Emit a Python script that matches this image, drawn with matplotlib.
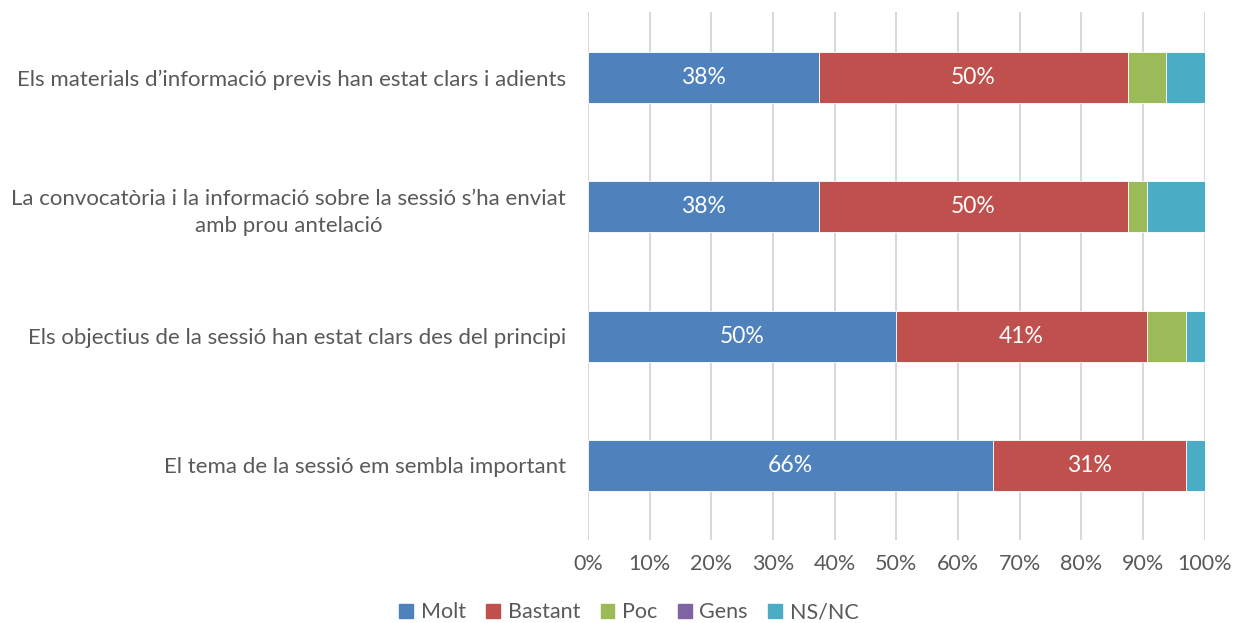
import numpy as np
import matplotlib.pyplot as plt
from matplotlib.patches import Patch

plt.rcParams['font.family'] = ['Lato', 'DejaVu Sans']

questions = [
    "El tema de la sessió em sembla important",
    "Els objectius de la sessió han estat clars des del principi",
    "La convocatòria i la informació sobre la sessió s’ha enviat\namb prou antelació",
    "Els materials d’informació previs han estat clars i adients",
]
series = ["Molt", "Bastant", "Poc", "Gens", "NS/NC"]
colors = ["#4f81bd", "#c0504d", "#9bbb59", "#8064a2", "#4bacc6"]

molt = [65.6, 50.0, 37.5, 37.5]
bastant = [31.3, 40.6, 50.0, 50.0]
poc = [0.0, 6.3, 3.1, 6.25]
gens = [0.0, 0.0, 0.0, 0.0]
nsnc = [3.1, 3.1, 9.4, 6.25]
values = [molt, bastant, poc, gens, nsnc]

fig = plt.figure(figsize=(12.33, 6.23), dpi=100)
ax = fig.add_axes([0.477, 0.133, 0.5, 0.848])

y = np.arange(len(questions))
left = np.zeros(len(questions))
for name, vals, c in zip(series, values, colors):
    vals = np.array(vals)
    ax.barh(y, vals, left=left, height=0.395, color=c, label=name,
            edgecolor='white', linewidth=0.6, zorder=3)
    if name in ("Molt", "Bastant"):
        for yi, l, v in zip(y, left, vals):
            ax.text(l + v / 2, yi, f"{v:.0f}%", ha='center', va='center',
                    color='white', fontsize=16.5, zorder=4)
    left += vals

ax.set_xlim(0, 100)
ax.set_ylim(-0.58, 3.51)
ax.set_xticks(np.arange(0, 101, 10))
ax.set_xticklabels([f"{t}%" for t in range(0, 101, 10)])
ax.set_yticks(y)
ax.set_yticklabels(questions, ha='right')
ax.tick_params(axis='both', length=0, labelcolor='#595959')
ax.tick_params(axis='y', pad=16, labelsize=16)
ax.tick_params(axis='x', pad=10, labelsize=15.5)
for lab in ax.get_yticklabels():
    lab.set_multialignment('center')
    lab.set_linespacing(1.45)
ax.grid(axis='x', color='#d9d9d9', linewidth=1.5, zorder=0)
for s in ax.spines.values():
    s.set_visible(False)

handles = [Patch(color=c, label=n) for n, c in zip(series, colors)]
fig.legend(handles=handles, loc='center', bbox_to_anchor=(0.51, 0.017),
           ncol=5, frameon=False, fontsize=15.5, handlelength=0.65,
           handleheight=0.65, handletextpad=0.35, columnspacing=0.95,
           labelcolor='#595959')

fig.savefig("out.png", dpi=100)
